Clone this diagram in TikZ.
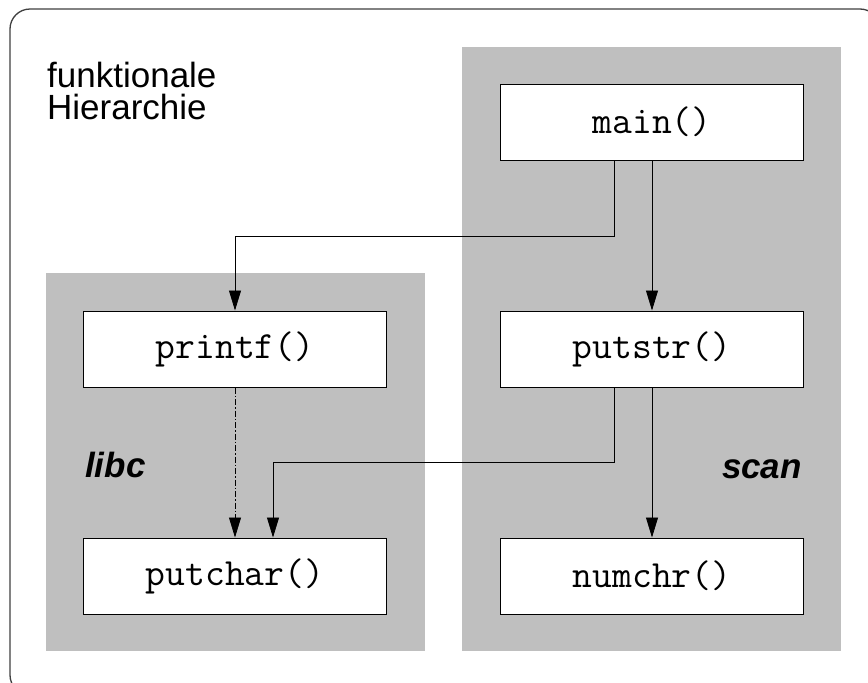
\documentclass[tikz,border=0pt]{standalone}
\usepackage{fontspec}
\setmainfont{Liberation Sans}
\usetikzlibrary{arrows.meta}
\tikzset{
  fbox/.style={draw=black, fill=white, line width=1pt, minimum width=303pt, minimum height=76pt, inner sep=0pt, font=\ttfamily\fontsize{38.5}{40}\selectfont},
  panel/.style={fill=black!25},
  arr/.style={-{Triangle[length=20pt,width=12pt]}, line width=0.8pt},
  lbl/.style={inner sep=0pt, font=\fontsize{35}{40}\selectfont},
  grp/.style={inner sep=0pt, font=\fontsize{35}{40}\selectfont\bfseries\itshape}
}
\begin{document}
\begin{tikzpicture}[x=1pt,y=-1pt]
\clip (0,0) rectangle (868,683);
\fill[white] (0,0) rectangle (868,683);
\draw[rounded corners=20pt, line width=1.3pt, draw=black!75] (10,9) rectangle (880,695);
\fill[panel] (46,273) rectangle (425,651);
\fill[panel] (462,47) rectangle (841,651);
\node[lbl, anchor=base west] (t1) at (47,87) {funktionale};
\node[lbl, anchor=base west] (t2) at (47,119) {Hierarchie};
\node[grp, anchor=base west] (libc) at (85,477) {libc};
\node[grp, anchor=base east] (scan) at (802,478) {scan};
\node[fbox] (main) at (652,122) {main()};
\node[fbox] (putstr) at (652,349) {putstr()};
\node[fbox] (numchr) at (652,576) {numchr()};
\node[fbox] (printf) at (235,349) {printf()};
\node[fbox] (putchar) at (235,576) {putchar()};
\draw[arr] ([xshift=-38pt]main.south) -- ++(0,76) -| (printf.north);
\draw[arr] (main.south) -- (putstr.north);
\draw[arr, dash pattern=on 6pt off 2pt on 1.5pt off 2pt] (printf.south) -- (putchar.north);
\draw[arr] ([xshift=-38pt]putstr.south) -- ++(0,75) -| ([xshift=38pt]putchar.north);
\draw[arr] (putstr.south) -- (numchr.north);
\end{tikzpicture}
\end{document}
